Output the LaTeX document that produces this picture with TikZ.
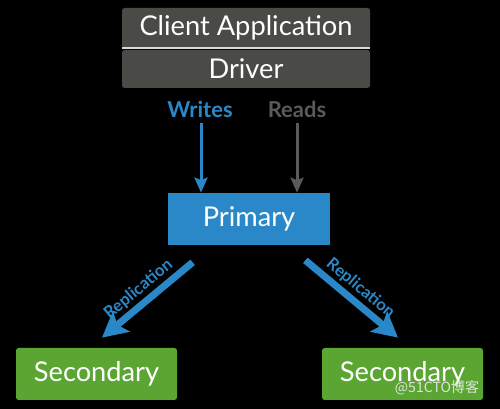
\documentclass[tikz,border=0pt]{standalone}
\usepackage{fontspec}
\setmainfont{Lato}
\newfontfamily\cjk{Noto Sans CJK SC}
\usepackage{tikz}
\usetikzlibrary{arrows.meta}

\definecolor{appgray}{HTML}{4A4A46}
\definecolor{readgray}{HTML}{5A5A5A}
\definecolor{mongoblue}{HTML}{2B88C8}
\definecolor{mongogreen}{HTML}{5BA633}

\tikzset{
	box/.style={rectangle, rounded corners=1.5pt, text=white, font=\fontsize{15.5}{17}\selectfont, inner sep=0pt},
	rwarrow/.style={-{Stealth[length=0.3cm, width=0.26cm, inset=0.05cm]}, line width=0.06cm},
	reparrow/.style={-{Stealth[length=0.5cm, width=0.52cm, inset=0.1cm]}, line width=0.14cm, color=mongoblue},
	replabel/.style={midway, sloped, above, inner sep=1.5pt, text=mongoblue, font=\bfseries\fontsize{9.5}{11}\selectfont}
}

\begin{document}
\begin{tikzpicture}
		\fill[black] (0,0) rectangle (10,8.18);
		\useasboundingbox (0,0) rectangle (10,8.18);

		\node[box, fill=appgray, minimum width=4.96cm, minimum height=0.8cm] (client) at (4.92,7.62) {Client Application};
		\node[box, fill=appgray, minimum width=4.96cm, minimum height=0.76cm] (driver) at (4.92,6.80) {Driver};
		\draw[white!85!black, line width=0.04cm] (client.south west) -- (client.south east);

		\node[font=\bfseries\fontsize{12.5}{14}\selectfont, text=mongoblue] (writes) at (4.0,6.0) {Writes};
		\node[font=\bfseries\fontsize{12.5}{14}\selectfont, text=readgray] (reads) at (5.94,6.0) {Reads};

		\node[box, fill=mongoblue, rounded corners=0pt, minimum width=3.24cm, minimum height=1.04cm] (primary) at (4.98,3.80) {Primary};
		\node[box, fill=mongogreen, minimum width=3.22cm, minimum height=1.04cm] (secL) at (1.93,0.70) {Secondary};
		\node[box, fill=mongogreen, minimum width=3.22cm, minimum height=1.04cm] (secR) at (8.05,0.70) {Secondary};

		\draw[rwarrow, color=mongoblue] ([xshift=0.02cm]writes.south) -- ([xshift=0.02cm]writes.south |- primary.north);
		\draw[rwarrow, color=readgray] (reads.south) -- (reads.south |- primary.north);

		\draw[reparrow] ([shift={(0.5,-0.34)}]primary.south west) -- node[replabel] (repL) {Replication} ([shift={(0.11,0.2)}]secL.north);
		\draw[reparrow] ([shift={(-0.5,-0.3)}]primary.south east) -- node[replabel] (repR) {Replication} ([shift={(-0.09,0.2)}]secR.north);

		\node[font=\cjk\fontsize{8}{9}\selectfont, text=white!88!black] (mark) at (8.74,0.42) {@51CTO博客};
	\end{tikzpicture}
\end{document}
